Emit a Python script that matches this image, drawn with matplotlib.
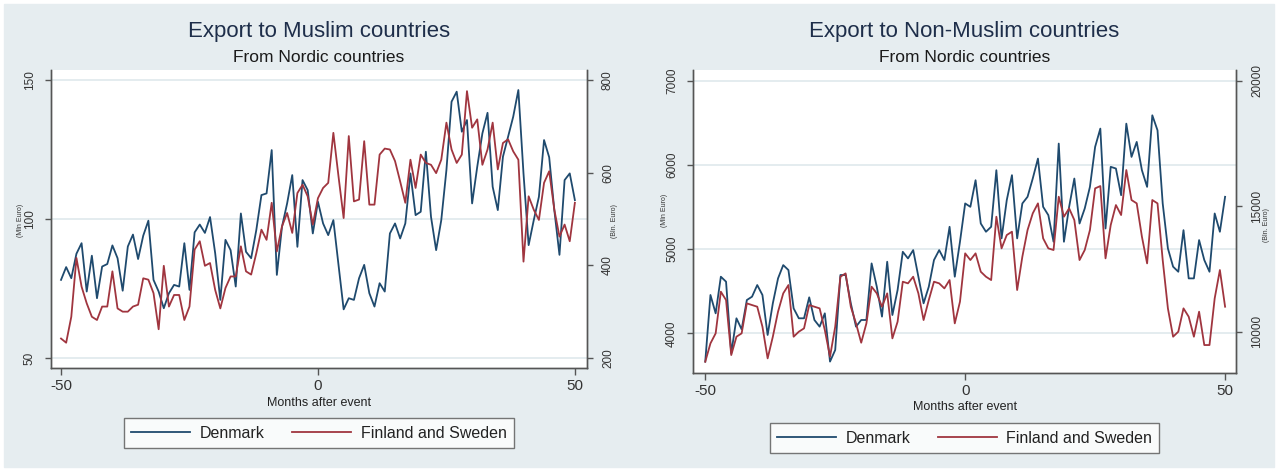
import numpy as np
import matplotlib
matplotlib.use("Agg")
import matplotlib.pyplot as plt
from matplotlib.patches import Rectangle

plt.rcParams['font.family'] = ['Liberation Sans', 'DejaVu Sans']
plt.rcParams['axes.unicode_minus'] = False

months = np.arange(-50, 51)

# exports to Muslim countries
muslim_dk = [78.1, 82.7, 78.7, 87.5, 91.3, 73.9, 86.8, 71.5, 82.9, 83.8,
             90.5, 85.9, 74.2, 90.1, 94.4, 85.6, 94.0, 99.4, 78.1, 73.9,
             67.9, 73.3, 76.3, 75.7, 91.3, 74.5, 95.2, 98.0, 95.0, 100.7,
             87.7, 70.9, 92.5, 88.8, 75.7, 102.0, 88.2, 85.9, 96.0, 108.6,
             109.2, 124.8, 79.9, 97.2, 105.6, 115.8, 90.0, 114.0, 110.4, 94.8,
             106.2, 98.4, 94.2, 99.6, 83.5, 67.5, 71.5, 70.9, 78.7, 83.5,
             73.3, 68.5, 76.9, 73.9, 94.8, 98.4, 93.0, 98.4, 116.4, 101.4,
             102.6, 124.2, 100.8, 88.8, 99.6, 117.6, 142.2, 145.8, 131.4, 135.6,
             105.6, 118.8, 130.8, 138.2, 111.6, 103.2, 122.4, 129.6, 136.8, 146.4,
             116.4, 90.6, 99.6, 108.0, 128.4, 122.2, 103.2, 87.1, 114.0, 116.4,
             106.8]
muslim_fs = [242, 233, 289, 416, 354, 318, 289, 282, 311, 311,
             387, 307, 300, 300, 311, 315, 372, 369, 340, 262,
             399, 311, 336, 336, 282, 311, 434, 452, 399, 405,
             347, 307, 351, 376, 376, 441, 387, 380, 426, 477,
             455, 535, 430, 484, 513, 470, 556, 574, 549, 488,
             545, 567, 578, 686, 592, 502, 679, 538, 542, 668,
             531, 531, 639, 652, 650, 625, 581, 535, 628, 567,
             639, 621, 617, 599, 628, 708, 650, 621, 639, 776,
             697, 715, 617, 650, 708, 607, 664, 672, 646, 628,
             408, 549, 520, 498, 578, 603, 520, 462, 488, 452,
             535]

# exports to non-Muslim countries
other_dk = [3664, 4455, 4237, 4672, 4613, 3763, 4178, 4047, 4395, 4435,
            4573, 4455, 3980, 4356, 4652, 4810, 4751, 4296, 4178, 4178,
            4427, 4158, 4079, 4237, 3664, 3802, 4692, 4692, 4356, 4079,
            4158, 4158, 4830, 4553, 4198, 4850, 4217, 4514, 4968, 4889,
            4988, 4672, 4356, 4553, 4870, 4988, 4870, 5265, 4672, 5087,
            5542, 5502, 5818, 5304, 5206, 5265, 5937, 5127, 5581, 5878,
            5127, 5542, 5621, 5838, 6075, 5502, 5403, 5087, 6253, 5087,
            5502, 5838, 5304, 5482, 5739, 6214, 6431, 5245, 5977, 5957,
            5640, 6490, 6095, 6273, 5937, 5739, 6589, 6411, 5542, 5008,
            4791, 4731, 5225, 4652, 4652, 5107, 4870, 4731, 5423, 5206,
            5621]
other_fs = [8805, 9535, 9934, 11594, 11262, 9070, 9801, 9934, 11129, 11062,
            10996, 10199, 8938, 9801, 10797, 11527, 11859, 9801, 10000, 10133,
            11062, 10996, 10930, 10066, 9004, 10199, 12191, 12324, 10996, 10332,
            9562, 10332, 11793, 11527, 10996, 11527, 9734, 10398, 11992, 11926,
            12191, 11527, 10465, 11262, 11992, 11926, 11726, 12058, 10332, 11195,
            13121, 12855, 13121, 12390, 12191, 12058, 14582, 13320, 13851, 13984,
            11660, 12988, 14050, 14714, 15113, 13718, 13320, 13254, 15378, 14582,
            14914, 14449, 12855, 13254, 14050, 15710, 15803, 12922, 14250, 15046,
            14648, 16441, 15246, 15113, 13785, 12722, 15246, 15113, 12855, 10930,
            9801, 10000, 10930, 10598, 9801, 10797, 9469, 9469, 11328, 12457,
            10996]

x_ticks = [-50, 0, 50]
muslim_left_ticks = [50, 100, 150]
muslim_right_ticks = [200, 400, 600, 800]
other_left_ticks = [4000, 5000, 6000, 7000]
other_right_ticks = [10000, 15000, 20000]

BLUE = '#1f4a6e'
RED = '#a0353f'
BG = '#e6edf0'
AXC = '#555555'

W, H = 1278, 469
fig = plt.figure(figsize=(W / 100, H / 100), dpi=100)
fig.patch.set_facecolor('white')
fig.patches.append(Rectangle((4 / W, 2 / H), (W - 8) / W, (H - 6) / H,
                             transform=fig.transFigure, color=BG, zorder=-10))


def panel(box, dk, fs, xlim, ylim, ylim2, yticks, yticks2):
    left, top, right, bottom = box
    ax = fig.add_axes([left / W, 1 - bottom / H, (right - left) / W, (bottom - top) / H])
    ax.set_facecolor('white')
    ax.grid(axis='y', color='#e4ecef', linewidth=1.4)
    ax.set_axisbelow(True)
    l1, = ax.plot(months, dk, color=BLUE, lw=1.3, label='Denmark')
    ax.set_xlim(*xlim)
    ax.set_ylim(*ylim)
    ax.set_xticks(x_ticks)
    ax.set_yticks(yticks)

    ax2 = ax.twinx()
    l2, = ax2.plot(months, fs, color=RED, lw=1.3, label='Finland and Sweden')
    ax2.set_ylim(*ylim2)
    ax2.set_yticks(yticks2)

    for a in (ax, ax2):
        a.spines['top'].set_visible(False)
        for s in ('left', 'right', 'bottom'):
            a.spines[s].set_color(AXC)
            a.spines[s].set_linewidth(1.0)
        a.tick_params(axis='y', labelrotation=90, labelsize=8.5, length=4,
                      width=1, color=AXC, labelcolor='#333333', pad=7)
        a.tick_params(axis='x', labelsize=11, length=5, width=1,
                      color=AXC, labelcolor='#333333', pad=3)
    for t in ax.get_yticklabels() + ax2.get_yticklabels():
        t.set_va('center')
    return ax, l1, l2


axL, h1, h2 = panel((51, 70, 586.7, 368), muslim_dk, muslim_fs,
                    (-51.95, 52.3), (46.4, 153.6), (178.4, 821.6),
                    muslim_left_ticks, muslim_right_ticks)
axR, _, _ = panel((693.3, 70, 1236, 372.7), other_dk, other_fs,
                  (-52.3, 52.1), (3532, 7127), (8367, 20426),
                  other_left_ticks, other_right_ticks)

# titles, axis titles and legends
for cx, title, xl_y, leg_y in [(318.9, 'Export to Muslim countries', 403, 433),
                               (964.6, 'Export to Non-Muslim countries', 407, 438)]:
    fig.text(cx / W, 1 - 32 / H, title, ha='center', va='center',
             fontsize=16, color='#1e2e4a')
    fig.text(cx / W, 1 - 58 / H, 'From Nordic countries', ha='center',
             va='center', fontsize=12.5, color='#1a1a1a')
    fig.text(cx / W, 1 - xl_y / H, 'Months after event', ha='center',
             va='center', fontsize=9, color='#222222')
    leg = fig.legend([h1, h2], ['Denmark', 'Finland and Sweden'], loc='center',
                     bbox_to_anchor=(cx / W, 1 - leg_y / H), ncol=2,
                     fontsize=11.5, frameon=True, fancybox=False,
                     edgecolor='#555555', handlelength=3.7, handletextpad=0.6,
                     columnspacing=1.7, borderpad=0.45)
    leg.get_frame().set_linewidth(1.0)
    for t in leg.get_texts():
        t.set_color('#222222')

for x, y, s in [(21, 220, '(Mln Euro)'), (615, 221, '(Bln. Euro)'),
                (665, 210, '(Mln Euro)'), (1266, 225, '(Bln. Euro)')]:
    fig.text(x / W, 1 - y / H, s, rotation=90, ha='center', va='center',
             fontsize=5, color='#333333')

fig.savefig('out.png', dpi=100)
